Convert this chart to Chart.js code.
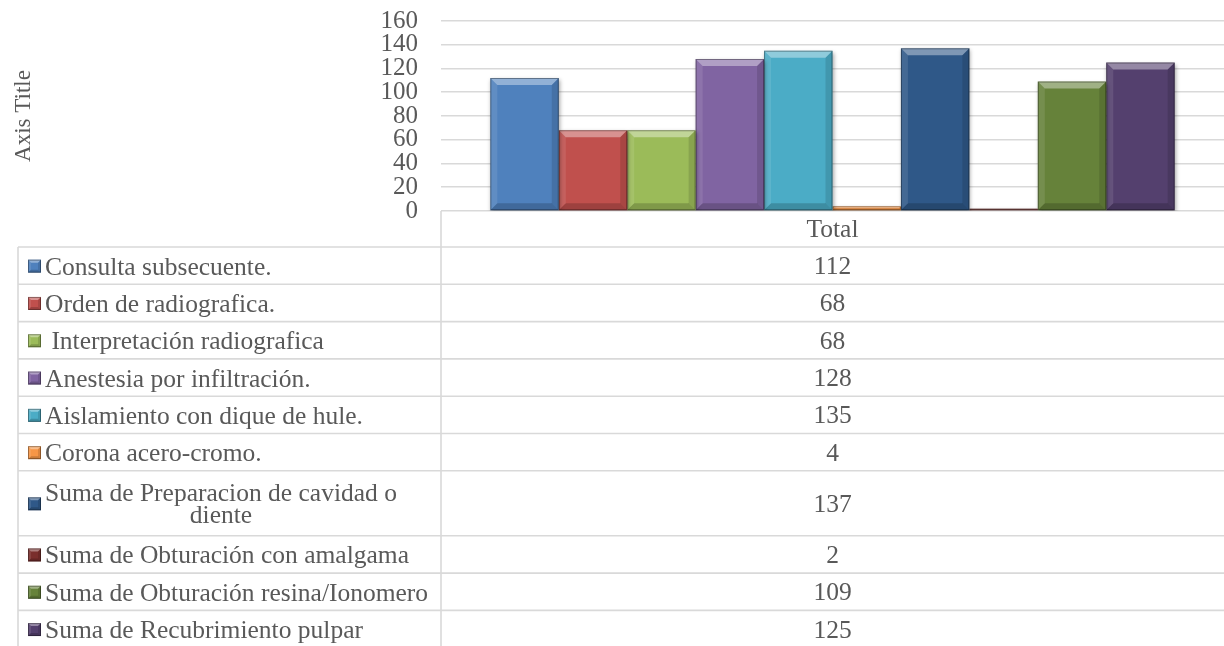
<!DOCTYPE html>
<html>
<head>
<meta charset="utf-8">
<script src="https://cdn.jsdelivr.net/npm/chart.js@4"></script>
<style>
  html, body { margin: 0; padding: 0; background: #fff; }
  canvas { display: block; }
</style>
</head>
<body>
<canvas id="chart" width="1224" height="646"></canvas>
<script>
// --- datos ---
const categories = ['Total'];
const seriesNames = [
    'Consulta subsecuente.',
    'Orden de radiografica.',
    ' Interpretación radiografica',
    'Anestesia por infiltración.',
    'Aislamiento con dique de hule.',
    'Corona acero-cromo.',
    'Suma de Preparacion de cavidad o diente',
    'Suma de Obturación con amalgama',
    'Suma de Obturación resina/Ionomero',
    'Suma de Recubrimiento pulpar'
];
const seriesValues = [112, 68, 68, 128, 135, 4, 137, 2, 109, 125];
const yMin = 0, yMax = 160, yStep = 20;
const axisTitle = 'Axis Title';

// --- estilo ---
const seriesColors = ['#4f81bd', '#c0504d', '#9bbb59', '#8064a2', '#4bacc6',
                      '#f79646', '#2f5888', '#7a2e2c', '#66823a', '#54406e'];
const FONT = "'Liberation Serif', serif";
const TEXT = '#595959';
const LINE = '#d9d9d9';

const PLOT_LEFT = 441;
const TABLE_LEFT = 18;
const PLOT_TOP = 21;
const HEADER_TOP = 211, HEADER_H = 36;
const ROW_H = 37.3, ROW_H2 = 65;

function bevel(ctx, l, t, r, b, size) {
    const s = Math.min(size, (b - t) / 2, (r - l) / 2);
    const poly = (pts, fill) => {
        ctx.beginPath();
        ctx.moveTo(pts[0][0], pts[0][1]);
        for (let i = 1; i < pts.length; i++) ctx.lineTo(pts[i][0], pts[i][1]);
        ctx.closePath();
        ctx.fillStyle = fill;
        ctx.fill();
    };
    poly([[l, t], [r, t], [r - s, t + s], [l + s, t + s]], 'rgba(255,255,255,0.38)');
    poly([[l, t], [l + s, t + s], [l + s, b - s], [l, b]], 'rgba(255,255,255,0.10)');
    poly([[r, t], [r - s, t + s], [r - s, b - s], [r, b]], 'rgba(0,0,0,0.12)');
    poly([[l, b], [l + s, b - s], [r - s, b - s], [r, b]], 'rgba(0,0,0,0.18)');
    ctx.strokeStyle = 'rgba(0,0,0,0.35)';
    ctx.lineWidth = 1;
    ctx.strokeRect(l + 0.5, t + 0.5, r - l - 1, b - t - 1);
}

// sombra + biselado de las barras
const bevelPlugin = {
    id: 'bevel',
    beforeDatasetDraw(chart) {
        const ctx = chart.ctx;
        ctx.save();
        ctx.shadowColor = 'rgba(0,0,0,0.35)';
        ctx.shadowBlur = 4;
        ctx.shadowOffsetX = 1;
        ctx.shadowOffsetY = 2;
    },
    afterDatasetDraw(chart, args) {
        const ctx = chart.ctx;
        ctx.restore();
        args.meta.data.forEach(bar => {
            const p = bar.getProps(['x', 'y', 'base', 'width'], true);
            const l = p.x - p.width / 2, r = p.x + p.width / 2;
            if (p.base - p.y < 1) return;
            ctx.save();
            bevel(ctx, l, p.y, r, p.base, 7);
            ctx.restore();
        });
    }
};

function wrapText(ctx, text, maxW) {
    const words = text.split(' ');
    const lines = [];
    let cur = '';
    words.forEach((w, i) => {
        const test = cur === '' && i === 0 ? w : cur + ' ' + w;
        if (ctx.measureText(test).width > maxW && cur.trim() !== '') {
            lines.push(cur);
            cur = w;
        } else {
            cur = test;
        }
    });
    lines.push(cur);
    return lines;
}

// tabla de datos debajo del grafico
const dataTablePlugin = {
    id: 'dataTable',
    afterDraw(chart) {
        const ctx = chart.ctx;
        const right = chart.width;
        ctx.save();
        ctx.font = '25.5px ' + FONT;
        ctx.fillStyle = TEXT;
        ctx.textAlign = 'center';
        ctx.textBaseline = 'alphabetic';
        const midX = (PLOT_LEFT + right) / 2;

        // encabezado
        ctx.fillText(categories[0], midX, HEADER_TOP + HEADER_H / 2 + 8);

        const textX = 45;
        const maxW = PLOT_LEFT - textX - 2;
        let y = HEADER_TOP + HEADER_H;
        const rowTops = [];
        seriesNames.forEach((name, i) => {
            const lines = wrapText(ctx, name, maxW);
            const h = lines.length > 1 ? ROW_H2 : ROW_H;
            rowTops.push(y);
            const cy = y + h / 2;

            // clave de color
            const k = 13, kx = 28, ky = cy - 6;
            ctx.fillStyle = seriesColors[i];
            ctx.fillRect(kx, ky, k, k);
            bevel(ctx, kx, ky, kx + k, ky + k, 3);

            ctx.fillStyle = TEXT;
            const firstW = ctx.measureText(lines[0]).width;
            lines.forEach((ln, j) => {
                const by = cy + 9 + (j - (lines.length - 1) / 2) * 22;
                if (j === 0) {
                    ctx.textAlign = 'left';
                    ctx.fillText(ln, textX, by);
                } else {
                    ctx.textAlign = 'center';
                    ctx.fillText(ln, textX + firstW / 2, by);
                }
            });

            // valor
            ctx.textAlign = 'center';
            ctx.fillText(String(seriesValues[i]), midX, cy + 8.5);

            y += h;
        });

        // lineas de la tabla
        ctx.strokeStyle = LINE;
        ctx.lineWidth = 1.6;
        ctx.beginPath();
        rowTops.forEach(t => {
            ctx.moveTo(TABLE_LEFT, t);
            ctx.lineTo(right, t);
        });
        ctx.moveTo(TABLE_LEFT, y);
        ctx.lineTo(right, y);
        ctx.moveTo(TABLE_LEFT, rowTops[0]);
        ctx.lineTo(TABLE_LEFT, y);
        ctx.moveTo(PLOT_LEFT, HEADER_TOP);
        ctx.lineTo(PLOT_LEFT, y);
        ctx.stroke();
        ctx.restore();
    }
};

const datasets = seriesNames.map((name, i) => ({
    label: name,
    data: [seriesValues[i]],
    backgroundColor: seriesColors[i],
    borderWidth: 0,
    categoryPercentage: 0.874,
    barPercentage: 1
}));

new Chart(document.getElementById('chart'), {
    type: 'bar',
    data: { labels: categories, datasets: datasets },
    options: {
        responsive: false,
        devicePixelRatio: 1,
        animation: false,
        layout: { padding: { top: PLOT_TOP, right: 0, bottom: 646 - HEADER_TOP, left: 0 } },
        plugins: {
            legend: { display: false },
            tooltip: { enabled: false }
        },
        scales: {
            x: { display: false },
            y: {
                min: yMin,
                max: yMax,
                afterFit(scale) {
                    scale.width = PLOT_LEFT;
                    scale.paddingTop = 0;
                    scale.paddingBottom = 0;
                },
                ticks: {
                    stepSize: yStep,
                    autoSkip: false,
                    padding: 23,
                    color: TEXT,
                    font: { family: FONT, size: 25 }
                },
                grid: { color: LINE, lineWidth: 1.6, drawTicks: false },
                border: { display: false },
                title: {
                    display: true,
                    text: axisTitle,
                    color: TEXT,
                    padding: { top: 10, bottom: 0 },
                    font: { family: FONT, size: 23 }
                }
            }
        }
    },
    plugins: [bevelPlugin, dataTablePlugin]
});
</script>
</body>
</html>
